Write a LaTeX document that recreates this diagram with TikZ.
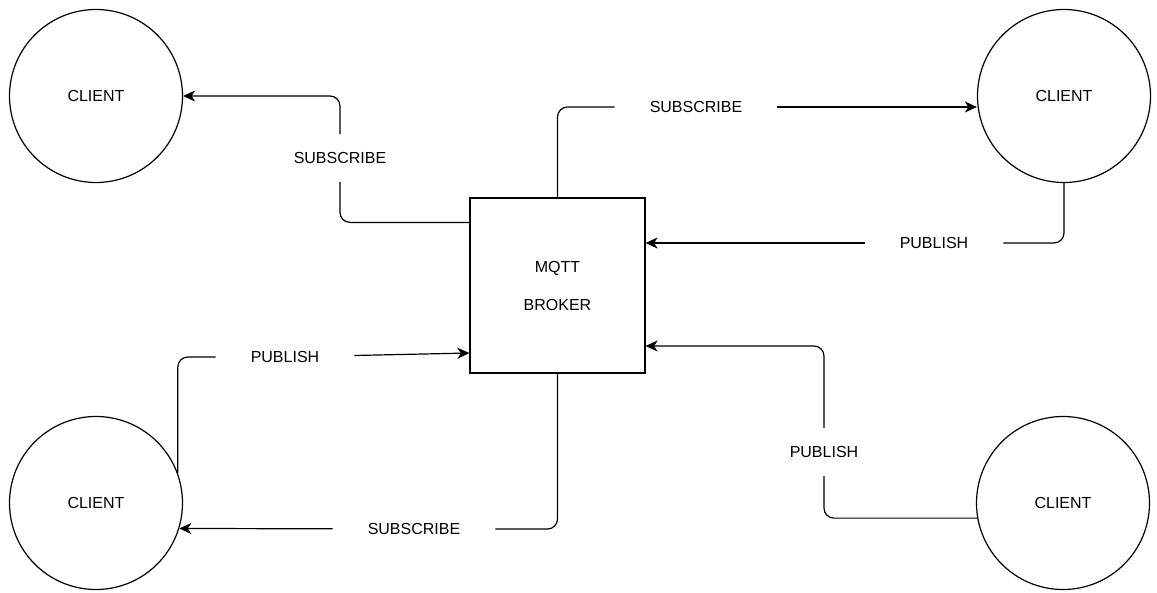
\documentclass[tikz,border=0pt]{standalone}
\usepackage{fontspec}
\setmainfont{Liberation Sans}
\usetikzlibrary{arrows.meta}

\begin{document}
\begin{tikzpicture}[x=1pt,y=-1pt,>={Stealth[length=12pt,width=11pt,inset=3.5pt]},
  client/.style={circle,draw,line width=1.2pt,minimum size=173pt,inner sep=0pt,font=\fontsize{16}{19}\selectfont},
  brokerbox/.style={draw,line width=1.2pt,minimum size=175pt,align=center,font=\fontsize{16}{38}\selectfont},
  msg/.style={inner xsep=35pt,inner ysep=18pt,font=\fontsize{16}{19}\selectfont},
  conn/.style={line width=1.2pt,rounded corners=10pt}]
  \useasboundingbox (0,0) rectangle (1157,592);
  % clients and broker
  \node[client] (tl) at (96,96) {CLIENT};
  \node[client] (tr) at (1064,96) {CLIENT};
  \node[client] (bl) at (96,503) {CLIENT};
  \node[client] (br) at (1063,503) {CLIENT};
  \node[brokerbox] (broker) at (557.5,285.5) {MQTT\\BROKER};
  % message labels
  \node[msg] (subtl) at (340,158) {SUBSCRIBE};
  \node[msg] (subtr) at (696,107) {SUBSCRIBE};
  \node[msg] (pubtr) at (934,243) {PUBLISH};
  \node[msg] (pubbl) at (285,357) {PUBLISH};
  \node[msg] (subbl) at (414,529) {SUBSCRIBE};
  \node[msg] (pubbr) at (824,452) {PUBLISH};
  % connectors
  \draw[conn] ([yshift=-25pt]broker.north west) -| (subtl);
  \draw[conn,->] (subtl) |- (tl);
  \draw[conn] (broker.north) |- (subtr);
  \draw[conn,->] (subtr) -- (subtr -| tr.west);
  \draw[conn] (tr.south) |- (pubtr);
  \draw[conn,->] (pubtr) -- (pubtr -| broker.east);
  \draw[conn] (bl.20) |- (pubbl);
  \draw[conn,->] (pubbl) -- ([yshift=-67.5pt]broker.west);
  \draw[conn] (broker.south) |- (subbl);
  \draw[conn,->] (subbl) -- (bl.-17);
  \draw[conn] (br.190) -| (pubbr);
  \draw[conn,->] (pubbr) |- ([yshift=-60.5pt]broker.east);
\end{tikzpicture}
\end{document}
